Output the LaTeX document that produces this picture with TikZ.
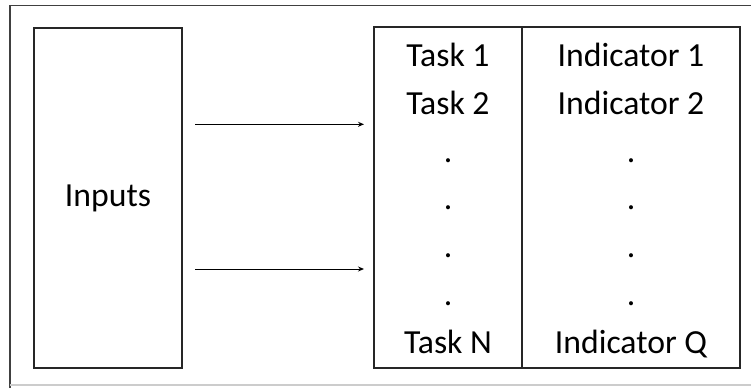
\documentclass[tikz,border=0pt]{standalone}
\usepackage{fontspec}
\setmainfont{Carlito}
\usetikzlibrary{arrows.meta}
\begin{document}
\begin{tikzpicture}[x=1pt,y=-1pt,
  boxline/.style={draw=black!85,line width=1.6pt},
  txt/.style={inner sep=0pt,anchor=base,align=center,
    font=\fontsize{33.7}{47.7}\selectfont},
  flow/.style={draw=black,line width=1pt,-{Stealth[length=6pt,width=5pt]}}]
\useasboundingbox (0,0) rectangle (751,388);
\fill[white] (0,0) rectangle (751,388);
% outer frame
\draw[black!75,line width=1.4pt] (10,388) -- (10,5.5) -- (751,5.5);
\draw[black!20,line width=1.4pt] (10,385) -- (751,385);
% inputs box
\node[boxline,minimum width=148pt,minimum height=340pt,inner sep=0pt] (inputs) at (108,198) {};
\node[txt] (inputstxt) at (108,206.7) {Inputs};
% right table
\node[boxline,minimum width=366pt,minimum height=341pt,inner sep=0pt] (table) at (557,197.5) {};
\coordinate (divtop) at (522,27);
\coordinate (divbot) at (522,368);
\draw[black!85,line width=1.6pt] (divtop) -- (divbot);
\node[txt] (tasks) at (448,353) {Task 1\\Task 2\\.\\.\\.\\.\\Task N};
\node[txt] (inds) at (631,353) {Indicator 1\\Indicator 2\\.\\.\\.\\.\\Indicator Q};
% arrows
\coordinate (a1s) at (195,124.3);
\coordinate (a1e) at (364,124.3);
\coordinate (a2s) at (195,269);
\coordinate (a2e) at (364,269);
\draw[flow] (a1s) -- (a1e);
\draw[flow] (a2s) -- (a2e);
\end{tikzpicture}
\end{document}
